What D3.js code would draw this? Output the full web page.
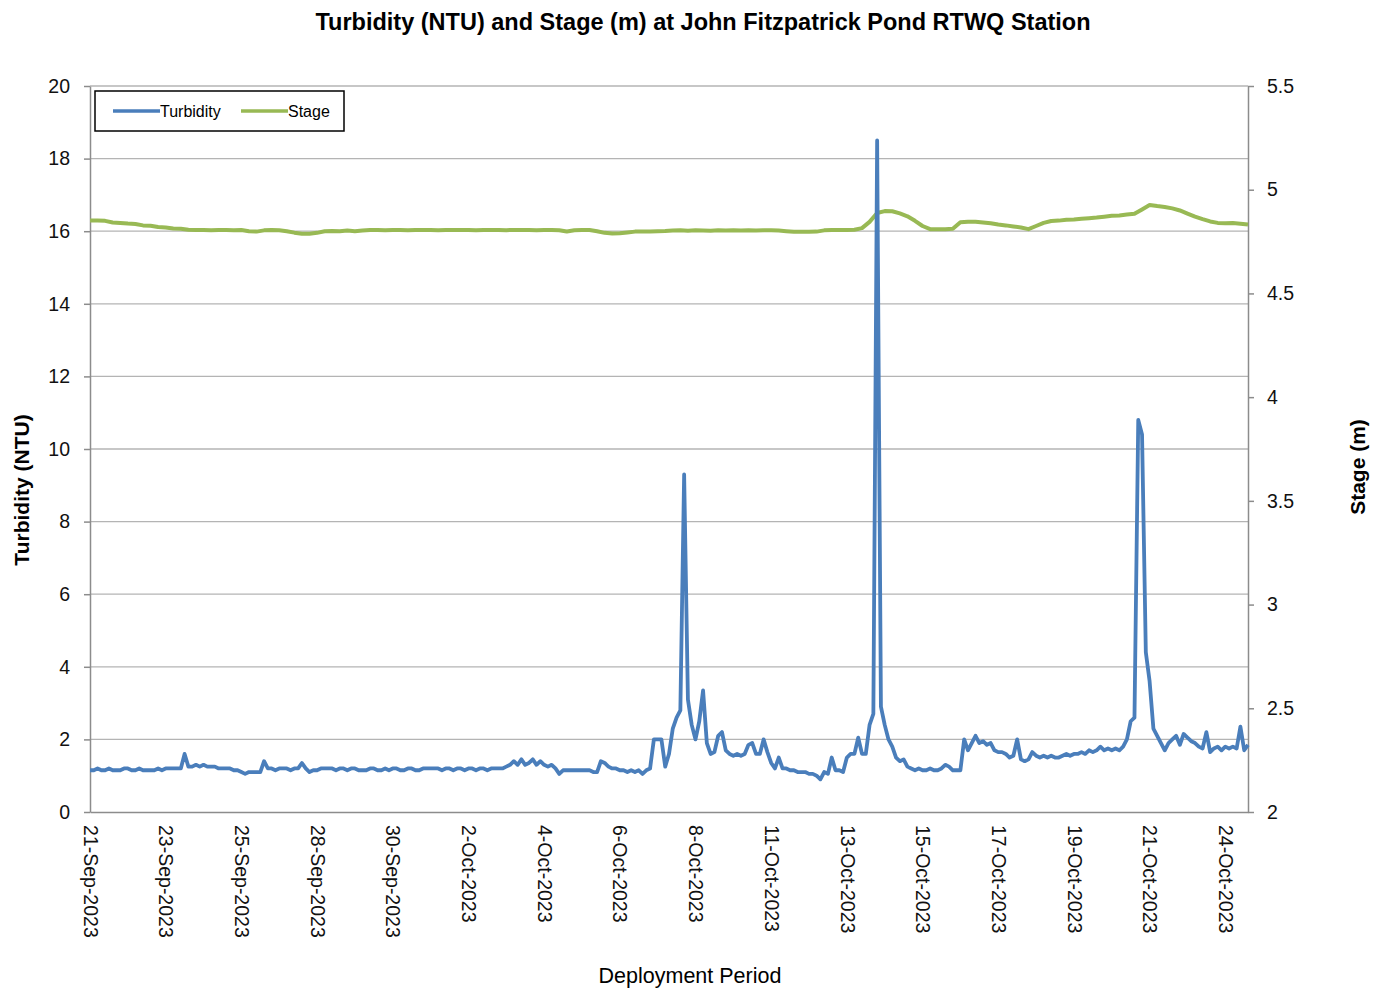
<!DOCTYPE html>
<html>
<head>
<meta charset="utf-8">
<script src="https://cdn.jsdelivr.net/npm/d3@7"></script>
<style>
  body { margin: 0; background: #fff; }
  text { font-family: "Liberation Sans", Arial, sans-serif; }
</style>
</head>
<body>
<div id="chart"></div>
<script>
// chart size
const width = 1379;
const height = 989;

// date labels, one every 20 turbidity readings
const tickLabels = [
    "21-Sep-2023", "23-Sep-2023", "25-Sep-2023", "28-Sep-2023", "30-Sep-2023",
    "2-Oct-2023", "4-Oct-2023", "6-Oct-2023", "8-Oct-2023", "11-Oct-2023",
    "13-Oct-2023", "15-Oct-2023", "17-Oct-2023", "19-Oct-2023", "21-Oct-2023", "24-Oct-2023"
];
const samplesPerLabel = 20;

// turbidity (NTU)
const turbidity = [
    1.15, 1.15, 1.2, 1.15, 1.15, 1.2, 1.15, 1.15, 1.15, 1.2, 1.2, 1.15, 1.15, 1.2, 1.15, 1.15, 1.15, 1.15, 1.2, 1.15,
    1.2, 1.2, 1.2, 1.2, 1.2, 1.6, 1.25, 1.25, 1.3, 1.25, 1.3, 1.25, 1.25, 1.25, 1.2, 1.2, 1.2, 1.2, 1.15, 1.15,
    1.1, 1.05, 1.1, 1.1, 1.1, 1.1, 1.4, 1.2, 1.2, 1.15, 1.2, 1.2, 1.2, 1.15, 1.2, 1.2, 1.35, 1.2, 1.1, 1.15,
    1.15, 1.2, 1.2, 1.2, 1.2, 1.15, 1.2, 1.2, 1.15, 1.2, 1.2, 1.15, 1.15, 1.15, 1.2, 1.2, 1.15, 1.15, 1.2, 1.15,
    1.2, 1.2, 1.15, 1.15, 1.2, 1.2, 1.15, 1.15, 1.2, 1.2, 1.2, 1.2, 1.2, 1.15, 1.2, 1.2, 1.15, 1.2, 1.2, 1.15,
    1.2, 1.2, 1.15, 1.2, 1.2, 1.15, 1.2, 1.2, 1.2, 1.2, 1.25, 1.3, 1.4, 1.3, 1.45, 1.3, 1.35, 1.45, 1.3, 1.4,
    1.3, 1.25, 1.3, 1.2, 1.05, 1.15, 1.15, 1.15, 1.15, 1.15, 1.15, 1.15, 1.15, 1.1, 1.1, 1.4, 1.35, 1.25, 1.2, 1.2,
    1.15, 1.15, 1.1, 1.15, 1.1, 1.15, 1.05, 1.15, 1.2, 2.0, 2.0, 2.0, 1.25, 1.6, 2.3, 2.6, 2.8, 9.3, 3.1, 2.4,
    2.0, 2.5, 3.35, 1.9, 1.6, 1.65, 2.1, 2.2, 1.7, 1.6, 1.55, 1.6, 1.55, 1.6, 1.85, 1.9, 1.6, 1.6, 2.0, 1.65,
    1.35, 1.2, 1.5, 1.2, 1.2, 1.15, 1.15, 1.1, 1.1, 1.1, 1.05, 1.05, 1.0, 0.9, 1.1, 1.05, 1.5, 1.15, 1.15, 1.1,
    1.5, 1.6, 1.6, 2.05, 1.6, 1.6, 2.4, 2.7, 18.5, 2.9, 2.4, 2.0, 1.8, 1.5, 1.4, 1.45, 1.25, 1.2, 1.15, 1.2,
    1.15, 1.15, 1.2, 1.15, 1.15, 1.2, 1.3, 1.25, 1.15, 1.15, 1.15, 2.0, 1.7, 1.9, 2.1, 1.9, 1.95, 1.85, 1.9, 1.7,
    1.65, 1.65, 1.6, 1.5, 1.55, 2.0, 1.45, 1.4, 1.45, 1.65, 1.55, 1.5, 1.55, 1.5, 1.55, 1.5, 1.5, 1.55, 1.6, 1.55,
    1.6, 1.6, 1.65, 1.6, 1.7, 1.65, 1.7, 1.8, 1.7, 1.75, 1.7, 1.75, 1.7, 1.8, 2.0, 2.5, 2.6, 10.8, 10.4, 4.4,
    3.6, 2.3, 2.1, 1.9, 1.7, 1.9, 2.0, 2.1, 1.85, 2.15, 2.05, 1.95, 1.9, 1.8, 1.75, 2.2, 1.65, 1.75, 1.8, 1.7,
    1.8, 1.75, 1.8, 1.75, 2.35, 1.7, 1.85
];

// stage (m), one reading per two turbidity readings
const stageStep = 2;
const stage = [
    4.852, 4.851, 4.850, 4.842, 4.840, 4.837, 4.835, 4.828, 4.826, 4.820,
    4.818, 4.813, 4.812, 4.807, 4.806, 4.806, 4.805, 4.806, 4.806, 4.805,
    4.806, 4.800, 4.798, 4.804, 4.806, 4.805, 4.800, 4.793, 4.788, 4.788,
    4.792, 4.800, 4.801, 4.800, 4.803, 4.800, 4.803, 4.806, 4.806, 4.805,
    4.806, 4.806, 4.805, 4.806, 4.806, 4.806, 4.805, 4.806, 4.806, 4.806,
    4.806, 4.805, 4.806, 4.806, 4.806, 4.805, 4.806, 4.806, 4.806, 4.805,
    4.806, 4.806, 4.805, 4.799, 4.805, 4.806, 4.806, 4.800, 4.792, 4.789,
    4.790, 4.794, 4.798, 4.798, 4.799, 4.800, 4.801, 4.803, 4.804, 4.802,
    4.804, 4.803, 4.802, 4.804, 4.803, 4.804, 4.803, 4.804, 4.803, 4.804,
    4.804, 4.803, 4.800, 4.797, 4.797, 4.797, 4.798, 4.804, 4.806, 4.806,
    4.806, 4.807, 4.815, 4.845, 4.888, 4.897, 4.896, 4.886, 4.872, 4.850,
    4.825, 4.810, 4.809, 4.809, 4.812, 4.843, 4.846, 4.845, 4.842, 4.838,
    4.832, 4.828, 4.823, 4.818, 4.810, 4.825, 4.840, 4.849, 4.851, 4.855,
    4.856, 4.860, 4.863, 4.866, 4.870, 4.874, 4.876, 4.880, 4.884, 4.905,
    4.926, 4.921, 4.917, 4.910, 4.900, 4.885, 4.870, 4.858, 4.847, 4.840,
    4.838, 4.839, 4.836, 4.832
];

// axis ticks
const leftTicks = [0, 2, 4, 6, 8, 10, 12, 14, 16, 18, 20];
const rightTicks = [2, 2.5, 3, 3.5, 4, 4.5, 5, 5.5];

const blue = "#4a7ebb";
const green = "#98b954";
const axisGrey = "#8c8c8c";

const plot = { left: 90, right: 1248, top: 86, bottom: 812 };

const svg = d3.select("#chart").append("svg")
    .attr("width", width)
    .attr("height", height);

const x = d3.scaleLinear().domain([0, turbidity.length - 1]).range([plot.left, plot.right]);
const yL = d3.scaleLinear().domain([0, 20]).range([plot.bottom, plot.top]);
const yR = d3.scaleLinear().domain([2, 5.5]).range([plot.bottom, plot.top]);

// gridlines
svg.append("g").selectAll("line")
    .data(leftTicks.filter(d => d > 0))
    .enter().append("line")
    .attr("x1", plot.left).attr("x2", plot.right)
    .attr("y1", d => yL(d)).attr("y2", d => yL(d))
    .attr("stroke", "#b4b4b4")
    .attr("stroke-width", 1.3);

// left axis
const gl = svg.append("g")
    .attr("transform", `translate(${plot.left},0)`)
    .call(d3.axisLeft(yL).tickValues(leftTicks).tickSize(6).tickSizeOuter(0).tickPadding(14));
// right axis
const gr = svg.append("g")
    .attr("transform", `translate(${plot.right},0)`)
    .call(d3.axisRight(yR).tickValues(rightTicks).tickFormat(d3.format("~g")).tickSize(6).tickSizeOuter(0).tickPadding(13));
// bottom axis
const gb = svg.append("g")
    .attr("transform", `translate(0,${plot.bottom})`)
    .call(d3.axisBottom(x).tickValues(tickLabels.map((d, i) => i * samplesPerLabel)).tickSize(0).tickSizeOuter(0).tickFormat((d, i) => tickLabels[i]));

[gl, gr, gb].forEach(g => {
    g.select(".domain").attr("stroke", axisGrey).attr("stroke-width", 1.5);
    g.selectAll(".tick line").attr("stroke", axisGrey).attr("stroke-width", 1.5);
    g.selectAll("text").attr("fill", "#111").style("font-size", "19.5px")
        .style("font-family", "'Liberation Sans', Arial, sans-serif");
});

gb.selectAll(".tick text")
    .attr("x", 0).attr("y", 0).attr("dy", "0.35em")
    .attr("text-anchor", "start")
    .attr("transform", "translate(0,13) rotate(90)")
    .style("font-size", "19.5px");

// lines
const stageLine = d3.line()
    .x((d, i) => x(i * stageStep))
    .y(d => yR(d));
const turbLine = d3.line()
    .x((d, i) => x(i))
    .y(d => yL(d));

svg.append("path")
    .datum(stage)
    .attr("d", stageLine)
    .attr("fill", "none")
    .attr("stroke", green)
    .attr("stroke-width", 4)
    .attr("stroke-linejoin", "round");

svg.append("path")
    .datum(turbidity)
    .attr("d", turbLine)
    .attr("fill", "none")
    .attr("stroke", blue)
    .attr("stroke-width", 3.8)
    .attr("stroke-linejoin", "round");

// titles
svg.append("text")
    .attr("x", 703).attr("y", 30)
    .attr("text-anchor", "middle")
    .style("font-size", "23.5px").style("font-weight", "bold")
    .text("Turbidity (NTU) and Stage (m) at John Fitzpatrick Pond RTWQ Station");

svg.append("text")
    .attr("transform", "translate(29,490) rotate(-90)")
    .attr("text-anchor", "middle")
    .style("font-size", "21px").style("font-weight", "bold")
    .text("Turbidity (NTU)");

svg.append("text")
    .attr("transform", "translate(1365,467) rotate(-90)")
    .attr("text-anchor", "middle")
    .style("font-size", "21px").style("font-weight", "bold")
    .text("Stage (m)");

svg.append("text")
    .attr("x", 690).attr("y", 983)
    .attr("text-anchor", "middle")
    .style("font-size", "21.5px")
    .text("Deployment Period");

// legend
const legend = svg.append("g").attr("transform", "translate(95,91)");
legend.append("rect")
    .attr("width", 249).attr("height", 40)
    .attr("fill", "#fff")
    .attr("stroke", "#000").attr("stroke-width", 1.5);
const legendItems = [
    { name: "Turbidity", color: blue, x: 18 },
    { name: "Stage", color: green, x: 146 }
];
legendItems.forEach(it => {
    legend.append("line")
        .attr("x1", it.x).attr("x2", it.x + 47)
        .attr("y1", 20).attr("y2", 20)
        .attr("stroke", it.color).attr("stroke-width", 3.5);
    legend.append("text")
        .attr("x", it.x + 47).attr("y", 20).attr("dy", "0.35em")
        .style("font-size", "16px")
        .text(it.name);
});
</script>
</body>
</html>
